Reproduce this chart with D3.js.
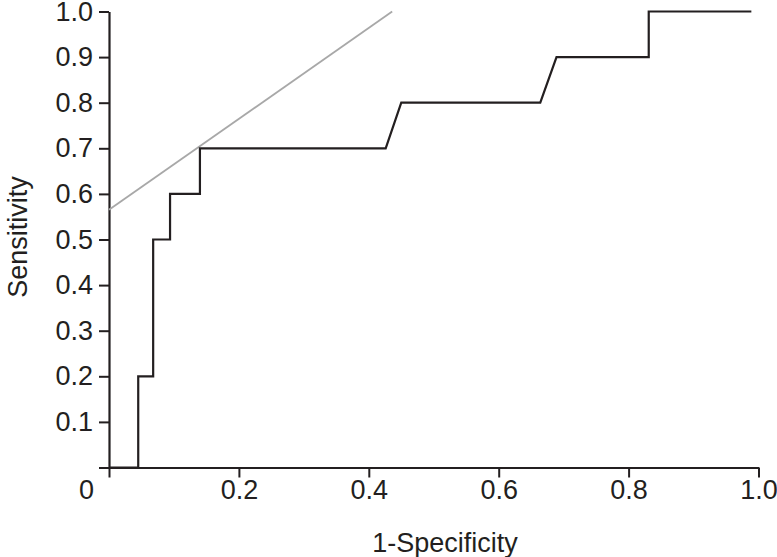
<!DOCTYPE html>
<html>
<head>
<meta charset="utf-8">
<script src="https://cdn.jsdelivr.net/npm/d3@7"></script>
<style>
  html, body { margin: 0; padding: 0; background: #fff; }
  svg { display: block; }
</style>
</head>
<body>
<script>
// ROC curve points (1-Specificity, Sensitivity)
const rocFpr = [0, 0.045, 0.045, 0.068, 0.068, 0.094, 0.094, 0.14, 0.14, 0.426, 0.45, 0.664, 0.689, 0.831, 0.831, 0.989];
const rocTpr = [0, 0, 0.2, 0.2, 0.5, 0.5, 0.6, 0.6, 0.7, 0.7, 0.8, 0.8, 0.9, 0.9, 1.0, 1.0];
// Grey tangent line
const refFpr = [0, 0.436];
const refTpr = [0.565, 1.0];
// Ticks
const xTicks = [0, 0.2, 0.4, 0.6, 0.8, 1.0];
const xTickLabels = ["0", "0.2", "0.4", "0.6", "0.8", "1.0"];
const yTicks = [0, 0.1, 0.2, 0.3, 0.4, 0.5, 0.6, 0.7, 0.8, 0.9, 1.0];
const yTickLabels = ["", "0.1", "0.2", "0.3", "0.4", "0.5", "0.6", "0.7", "0.8", "0.9", "1.0"];
const xTitle = "1-Specificity";
const yTitle = "Sensitivity";

const W = 777, H = 557;
const FONT = "'Liberation Sans', Arial, Helvetica, sans-serif";
const TXT = "#231f20";
const FS = "27px";

const svg = d3.select("body").append("svg").attr("width", W).attr("height", H);

const x = d3.scaleLinear().domain([0, 1]).range([109, 758.5]);
const y = d3.scaleLinear().domain([0, 1]).range([467.5, 11.5]);

// Axes
const xAxis = d3.axisBottom(x).tickValues(xTicks)
  .tickFormat((d, i) => xTickLabels[i]).tickSize(10).tickSizeOuter(0).tickPadding(2);
const yAxis = d3.axisLeft(y).tickValues(yTicks)
  .tickFormat((d, i) => yTickLabels[i]).tickSize(10).tickSizeOuter(0).tickPadding(6);

const gx = svg.append("g").attr("transform", `translate(0,${y(0)})`).call(xAxis);
const gy = svg.append("g").attr("transform", `translate(${x(0)},0)`).call(yAxis);

[gx, gy].forEach(g => {
  g.select(".domain").attr("stroke", TXT).attr("stroke-width", 2.2);
  g.selectAll(".tick line").attr("stroke", TXT).attr("stroke-width", 2);
  g.selectAll(".tick text").attr("fill", TXT).style("font-family", FONT).style("font-size", FS);
});
// The origin "0" label sits left of the corner
gx.selectAll(".tick text").filter((d, i) => i === 0).attr("dx", -23);

// Grey line
const line = d3.line().x(d => x(d[0])).y(d => y(d[1]));
svg.append("path")
  .datum(refFpr.map((v, i) => [v, refTpr[i]]))
  .attr("d", line).attr("fill", "none").attr("stroke", "#a8a8a8").attr("stroke-width", 1.8);

// ROC curve
svg.append("path")
  .datum(rocFpr.map((v, i) => [v, rocTpr[i]]))
  .attr("d", line).attr("fill", "none").attr("stroke", "#231f20")
  .attr("stroke-width", 2.2).attr("stroke-linejoin", "miter");

// Titles
svg.append("text").attr("x", 445).attr("y", 552)
  .attr("text-anchor", "middle").attr("fill", TXT)
  .style("font-family", FONT).style("font-size", FS).text(xTitle);

svg.append("text").attr("transform", `translate(27,237)rotate(-90)`)
  .attr("text-anchor", "middle").attr("fill", TXT)
  .style("font-family", FONT).style("font-size", FS).text(yTitle);
</script>
</body>
</html>
